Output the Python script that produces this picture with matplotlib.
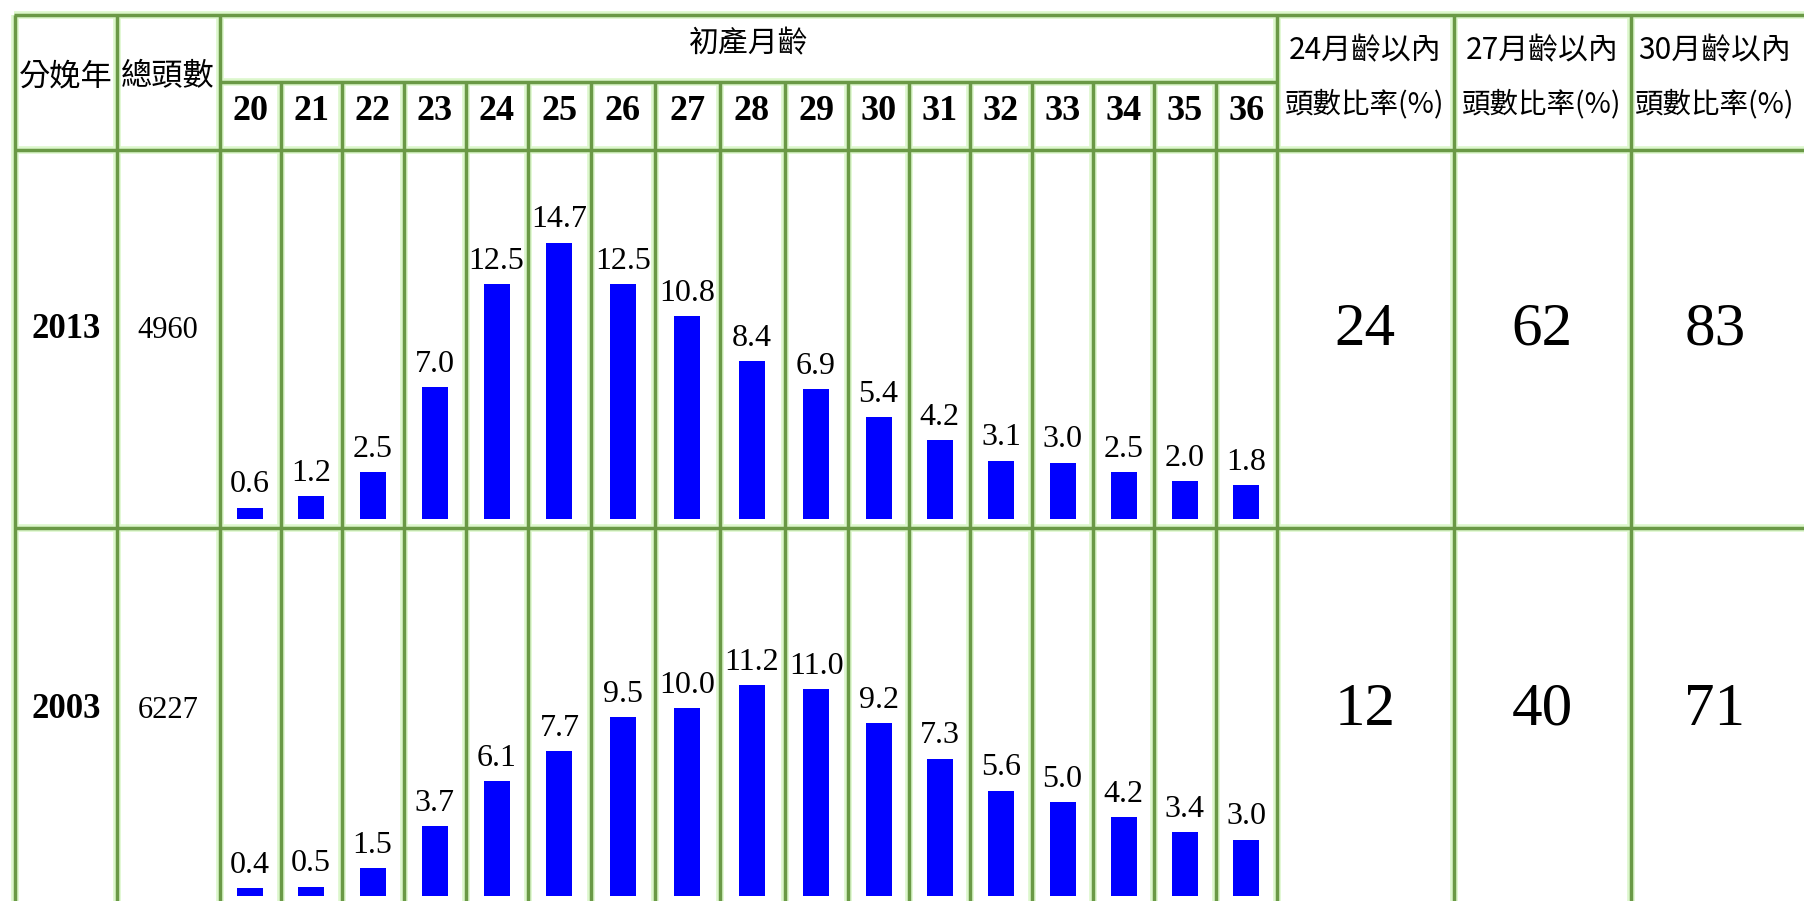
import matplotlib
matplotlib.use("Agg")
import matplotlib.pyplot as plt

# ---------------- data ----------------
months = list(range(20, 37))
years = ["2013", "2003"]
totals = [4960, 6227]
pct_2013 = [0.6, 1.2, 2.5, 7.0, 12.5, 14.7, 12.5, 10.8, 8.4, 6.9, 5.4, 4.2, 3.1, 3.0, 2.5, 2.0, 1.8]
pct_2003 = [0.4, 0.5, 1.5, 3.7, 6.1, 7.7, 9.5, 10.0, 11.2, 11.0, 9.2, 7.3, 5.6, 5.0, 4.2, 3.4, 3.0]
within24 = [24, 12]
within27 = [62, 40]
within30 = [83, 71]

header_year = "分娩年"
header_total = "總頭數"
header_month = "初產月齡"
header_ratio_l1 = ["24月齡以內", "27月齡以內", "30月齡以內"]
header_ratio_l2 = "頭數比率(%)"

# ---------------- layout (pixels) ----------------
W, H = 1804, 901
month_edges = [219.6, 280.6, 341.5, 403.5, 465.5, 527.8, 591, 655, 719.6, 784.5,
               847.7, 909.3, 970, 1032, 1093, 1154, 1215.5, 1277]
left_cols = [15, 117, 219.6]
right_cols = [1277, 1454, 1631]
right_centers = [1365, 1542, 1715]
top_y, sub_y, head_y, row_y = 15, 82, 150, 528
row_base = [519, 896]
row_text_y = [330, 710]
px_per_unit = 18.8

LINE = "#6a9946"
HALO = "#dcf7cc"
BLUE = "#0000ff"
CJK = ["Noto Sans CJK TC", "DejaVu Sans"]
SERIF = ["Liberation Serif", "DejaVu Serif"]

fig = plt.figure(figsize=(W / 100, H / 100), dpi=100)
fig.patch.set_facecolor("white")

ax = fig.add_axes([0, 0, 1, 1])
ax.set_xlim(0, W)
ax.set_ylim(H, 0)
ax.axis("off")


def hline(y, x0, x1):
    ax.plot([x0, x1], [y, y], color=HALO, lw=5.5, solid_capstyle="butt", zorder=1)
    ax.plot([x0, x1], [y, y], color=LINE, lw=2.5, solid_capstyle="butt", zorder=2)


def vline(x, y0, y1):
    ax.plot([x, x], [y0, y1], color=HALO, lw=5.5, solid_capstyle="butt", zorder=1)
    ax.plot([x, x], [y0, y1], color=LINE, lw=2.5, solid_capstyle="butt", zorder=2)


# grid
hline(top_y, left_cols[0] - 1, W)
hline(sub_y, month_edges[0], month_edges[-1])
hline(head_y, left_cols[0] - 1, W)
hline(row_y, left_cols[0] - 1, W)
for x in left_cols + right_cols:
    vline(x, top_y, H)
for x in month_edges[1:-1]:
    vline(x, sub_y, H)

# header texts
ax.text(66, 76, header_year, ha="center", va="center", fontsize=22.5, family=CJK)
ax.text(168, 76, header_total, ha="center", va="center", fontsize=22.5, family=CJK)
ax.text((month_edges[0] + month_edges[-1]) / 2, 44, header_month,
        ha="center", va="center", fontsize=21.5, family=CJK)
centers = [(a + b) / 2 for a, b in zip(month_edges[:-1], month_edges[1:])]
for cx, m in zip(centers, months):
    ax.text(cx, 111, str(m), ha="center", va="center", fontsize=26,
            fontweight="bold", family=SERIF)
for cx, l1 in zip(right_centers, header_ratio_l1):
    ax.text(cx, 51, l1, ha="center", va="center", fontsize=21.5, family=CJK)
    ax.text(cx, 104, header_ratio_l2, ha="center", va="center", fontsize=20.5, family=CJK)

# rows
series = [pct_2013, pct_2003]
for i in range(2):
    ty = row_text_y[i]
    ax.text(66, ty, years[i], ha="center", va="center", fontsize=25,
            fontweight="bold", family=SERIF)
    ax.text(168, ty, str(totals[i]), ha="center", va="center", fontsize=22, family=SERIF)
    for cx, val in zip(right_centers, [within24[i], within27[i], within30[i]]):
        ax.text(cx, ty, str(val), ha="center", va="center", fontsize=44, family=SERIF)

    # bar axes for this row (x in pixels, y in percent)
    base = row_base[i]
    hpx = 350
    bax = fig.add_axes([0, 1 - base / H, 1, hpx / H])
    bax.set_xlim(0, W)
    bax.set_ylim(0, hpx / px_per_unit)
    bax.axis("off")
    bax.patch.set_alpha(0)
    bax.bar(centers, series[i], width=26, color=BLUE, zorder=3)
    for cx, v in zip(centers, series[i]):
        bax.annotate(f"{v:.1f}", (cx, v), xytext=(0, 11), textcoords="offset points",
                     ha="center", va="baseline", fontsize=23, family=SERIF,
                     annotation_clip=False)

fig.savefig("out.png", dpi=100, facecolor="white")
